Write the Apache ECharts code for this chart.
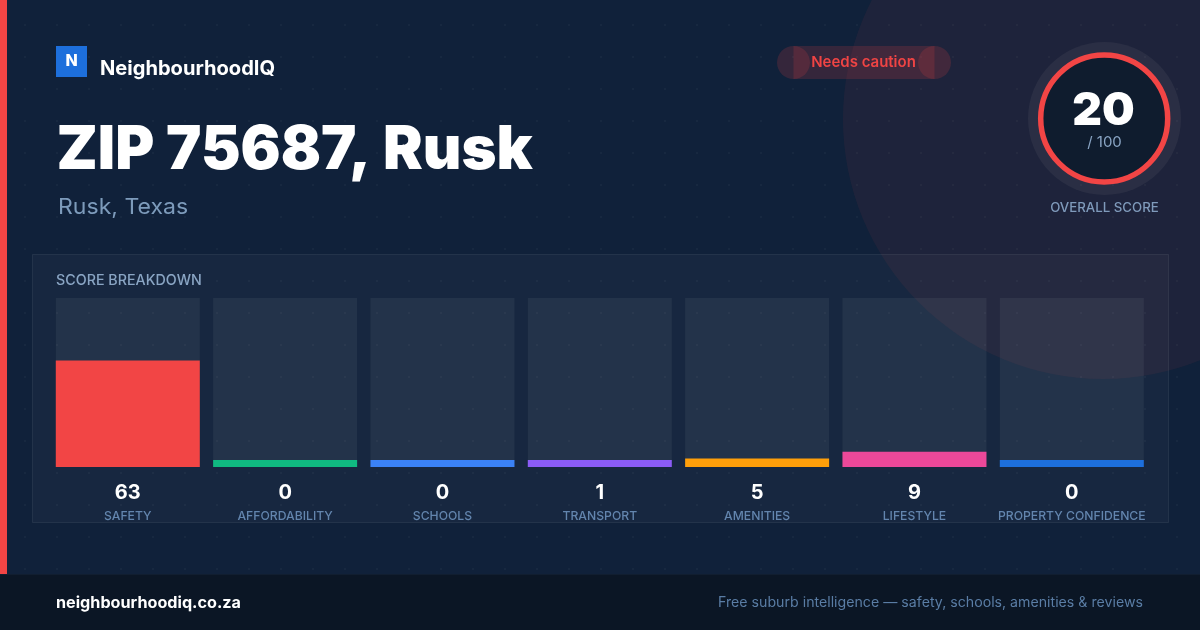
<!DOCTYPE html>
<html>
<head>
<meta charset="utf-8">
<style>
html,body{margin:0;padding:0;width:1200px;height:630px;overflow:hidden;}
body{background-color:#10213a;background-image:radial-gradient(circle,rgba(255,255,255,.03) 1px,transparent 1.2px);background-size:32px 32px;background-position:9px 9px;}
#c{width:1200px;height:630px;}
</style>
<script src="https://cdn.jsdelivr.net/npm/echarts@6/dist/echarts.min.js"></script>
</head>
<body>
<div id="c"></div>
<script>
var categories = ['SAFETY','AFFORDABILITY','SCHOOLS','TRANSPORT','AMENITIES','LIFESTYLE','PROPERTY CONFIDENCE'];
var scores = [63,0,0,1,5,9,0];
var barColors = ['#f24545','#10b981','#3b82f6','#8b5cf6','#ff9f0a','#ec4899','#1d6fdc'];
var overallScore = 20;
var overallMax = 100;
var FONT = 'Inter';

function text(x,y,s,size,weight,color,align,sx){
  return {type:'text',z:10,x:x,y:y,scaleX:sx||1,silent:true,style:{text:s,fontFamily:FONT,fontSize:size,fontWeight:weight,fill:color,align:align||'left',verticalAlign:'middle'}};
}
function shape(type,sh,style,z){return {type:type,shape:sh,style:style,z:z,silent:true};}

var chart = echarts.init(document.getElementById('c'),null,{renderer:'canvas',width:1200,height:630});
chart.setOption({
  animation:false,
  backgroundColor:'transparent',
  grid:{left:49.13,top:298,width:1101.34,height:169,containLabel:false},
  xAxis:{type:'category',data:categories,axisLine:{show:false},axisTick:{show:false},
    axisLabel:{interval:0,margin:14,hideOverlap:false,
      formatter:function(v,i){return '{v|'+scores[i]+'}\n{c|'+v+'}';},
      rich:{
        v:{fontFamily:FONT,fontSize:20,fontWeight:700,color:'#ffffff',lineHeight:24,align:'center'},
        c:{fontFamily:FONT,fontSize:12.2,fontWeight:500,color:'#6385ae',lineHeight:23,align:'center'}
      }}},
  yAxis:{type:'value',min:0,max:100,show:false,splitLine:{show:false}},
  series:[{type:'bar',barWidth:144,barMinHeight:7,z:3,data:scores.map(function(v,i){return {value:v,itemStyle:{color:barColors[i]}};}),
    showBackground:true,backgroundStyle:{color:'rgba(255,255,255,0.055)'},silent:true}],
  graphic:{elements:[
    shape('circle',{cx:1103,cy:119,r:260},{fill:'rgba(239,68,68,0.065)'},0),
    shape('rect',{x:32.5,y:254.5,width:1136,height:268},{fill:'rgba(255,255,255,0.03)',stroke:'rgba(255,255,255,0.07)',lineWidth:1},0),
    shape('rect',{x:0,y:0,width:7,height:574},{fill:'#f24545'},5),
    shape('rect',{x:0,y:574,width:1200,height:56},{fill:'#0b1625'},5),
    shape('rect',{x:0,y:574,width:1200,height:1},{fill:'#111e30'},6),
    shape('rect',{x:56,y:46,width:31,height:31},{fill:'#1d6fdc'},6),
    text(71.5,61,'N',16,800,'#ffffff','center'),
    text(100,69,'NeighbourhoodIQ',20,700,'#ffffff','left',1.005),
    text(56.5,150.5,'ZIP 75687, Rusk',60,900,'#ffffff','left',0.992),
    text(58,207,'Rusk, Texas',22,400,'#7d9bbb','left',1.048),
    shape('rect',{x:793.5,y:46,width:141,height:33},{fill:'rgba(239,68,68,0.17)'},6),
    shape('circle',{cx:793.5,cy:62.5,r:16.5},{fill:'rgba(239,68,68,0.17)'},6),
    shape('circle',{cx:934.5,cy:62.5,r:16.5},{fill:'rgba(239,68,68,0.17)'},6),
    text(863.5,62.5,'Needs caution',15,600,'#ef4444','center'),
    shape('circle',{cx:1104.5,cy:118.5,r:76.5},{fill:'rgba(255,255,255,0.05)'},6),
    shape('circle',{cx:1104.2,cy:118.5,r:63.5},{fill:'#0f1c2e',stroke:'#f24545',lineWidth:5.5},7),
    text(1103.5,111,String(overallScore),46,900,'#ffffff','center'),
    text(1104.5,142,'/ '+overallMax,15,400,'#8aa5c4','center'),
    text(1104.5,208.5,'OVERALL SCORE',13,500,'#7f9abb','center',1.02),
    text(56,280.5,'SCORE BREAKDOWN',14,500,'#8aa5c4','left',1.02),
    text(56,603,'neighbourhoodiq.co.za',16,700,'#ffffff','left',1.011),
    text(1143,603,'Free suburb intelligence \u2014 safety, schools, amenities & reviews',14,400,'#5a7da5','right',1.012)
  ]}
});
</script>
</body>
</html>
